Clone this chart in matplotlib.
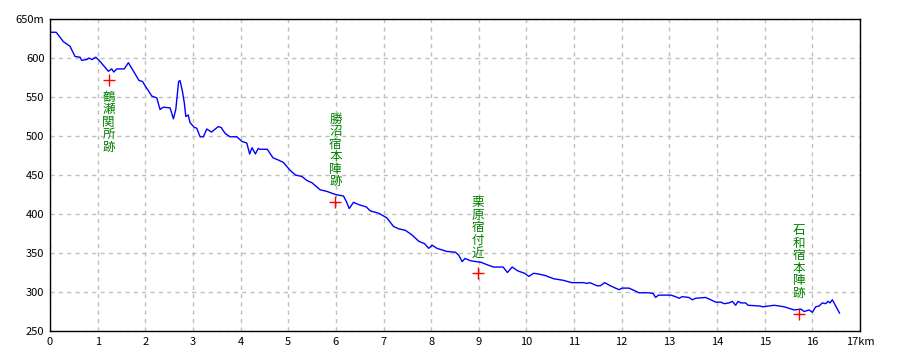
import matplotlib
matplotlib.use("Agg")
import matplotlib.pyplot as plt

plt.rcParams['font.family'] = ['Noto Sans CJK JP', 'DejaVu Sans']

# elevation profile (km, m)
dist_km = [0.0, 0.13, 0.28, 0.42, 0.525, 0.63, 0.665, 0.77, 0.82, 0.88, 0.96, 1.03,
           1.225, 1.295, 1.34, 1.4, 1.56, 1.645, 1.82, 1.87, 1.94, 2.0, 2.14, 2.24,
           2.31, 2.38, 2.52, 2.59, 2.64, 2.7, 2.73, 2.78, 2.82, 2.85, 2.9, 2.94,
           3.03, 3.08, 3.15, 3.22, 3.29, 3.39, 3.53, 3.59, 3.68, 3.78, 3.92, 4.03,
           4.13, 4.19, 4.24, 4.31, 4.37, 4.4, 4.56, 4.68, 4.8, 4.9, 5.04, 5.15,
           5.29, 5.39, 5.5, 5.67, 5.81, 5.99, 6.16, 6.22, 6.28, 6.37, 6.48, 6.64,
           6.72, 6.9, 7.07, 7.21, 7.32, 7.46, 7.6, 7.74, 7.86, 7.95, 8.02, 8.12,
           8.33, 8.51, 8.58, 8.65, 8.71, 8.83, 9.05, 9.17, 9.31, 9.51, 9.6, 9.7,
           9.82, 9.96, 10.05, 10.15, 10.26, 10.4, 10.57, 10.77, 10.95, 11.2, 11.27,
           11.33, 11.48, 11.55, 11.64, 11.76, 11.94, 12.01, 12.15, 12.26, 12.36,
           12.57, 12.66, 12.71, 12.77, 13.03, 13.13, 13.2, 13.27, 13.41, 13.48,
           13.55, 13.76, 13.87, 13.97, 14.08, 14.15, 14.25, 14.32, 14.39, 14.44,
           14.5, 14.6, 14.65, 14.9, 14.96, 15.2, 15.41, 15.62, 15.76, 15.83, 15.93,
           16.0, 16.07, 16.14, 16.21, 16.28, 16.33, 16.37, 16.42, 16.49, 16.57]
elev_m = [633, 633, 621, 615, 602, 601, 597, 598, 600, 598, 601, 597,
          583, 586, 582, 586, 586, 594, 576, 571, 570, 564, 551, 549,
          534, 537, 536, 522, 534, 570, 571, 557, 542, 525, 527, 517,
          511, 510, 499, 499, 509, 505, 512, 511, 503, 499, 499, 493,
          491, 477, 485, 477, 484, 483, 483, 472, 469, 466, 456, 450,
          448, 443, 440, 431, 429, 425, 423, 416, 407, 415, 412, 409,
          404, 401, 395, 384, 381, 379, 373, 365, 362, 356, 360, 356,
          352, 351, 347, 339, 343, 340, 338, 335, 332, 332, 325, 332,
          327, 324, 320, 324, 323, 321, 317, 315, 312, 312, 311,
          312, 308, 308, 312, 308, 303, 305, 305, 302, 299,
          299, 298, 293, 296, 296, 294, 292, 294, 293, 290,
          292, 293, 290, 287, 287, 285, 286, 288, 283, 288,
          286, 286, 283, 282, 281, 283, 281, 277, 278, 275, 277,
          274, 281, 282, 286, 285, 288, 286, 290, 282, 273]

# waypoints
spot_names = ['鶴瀬関所跡', '勝沼宿本陣跡', '栗原宿付近', '石和宿本陣跡']
spot_km = [1.23, 5.99, 8.98, 15.72]
spot_m = [572, 415, 324, 272]
label_below = [True, False, False, False]

x_ticks = list(range(18))
x_labels = [str(v) for v in range(17)] + ['17km']
y_ticks = [250, 300, 350, 400, 450, 500, 550, 600, 650]
y_labels = ['250', '300', '350', '400', '450', '500', '550', '600', '650m']

fig = plt.figure(figsize=(9, 3.6), dpi=100)
ax = fig.add_axes([50/900, 29/360, 810/900, 312/360])

ax.plot(dist_km, elev_m, color='#0000ff', lw=1)
ax.plot(spot_km, spot_m, ls='none', marker='+', color='#ff0000', ms=9, mew=1)

for name, x, y, below in zip(spot_names, spot_km, spot_m, label_below):
    txt = '\n'.join(name)
    if below:
        ax.annotate(txt, (x, y), xytext=(0, -8), textcoords='offset points',
                    ha='center', va='top', color='#008000', fontsize=9,
                    linespacing=0.95)
    else:
        ax.annotate(txt, (x, y), xytext=(0, 10), textcoords='offset points',
                    ha='center', va='bottom', color='#008000', fontsize=9,
                    linespacing=0.95)

ax.set_xlim(0, 17)
ax.set_ylim(250, 650)
ax.set_xticks(x_ticks)
ax.set_xticklabels(x_labels)
ax.set_yticks(y_ticks)
ax.set_yticklabels(y_labels)
ax.tick_params(length=0, labelsize=8, pad=4)
ax.grid(True, color='#c0c0c0', ls=(0, (3, 3)), lw=1)
for s in ax.spines.values():
    s.set_color('black')
    s.set_linewidth(1)

fig.savefig('out.png', dpi=100)
